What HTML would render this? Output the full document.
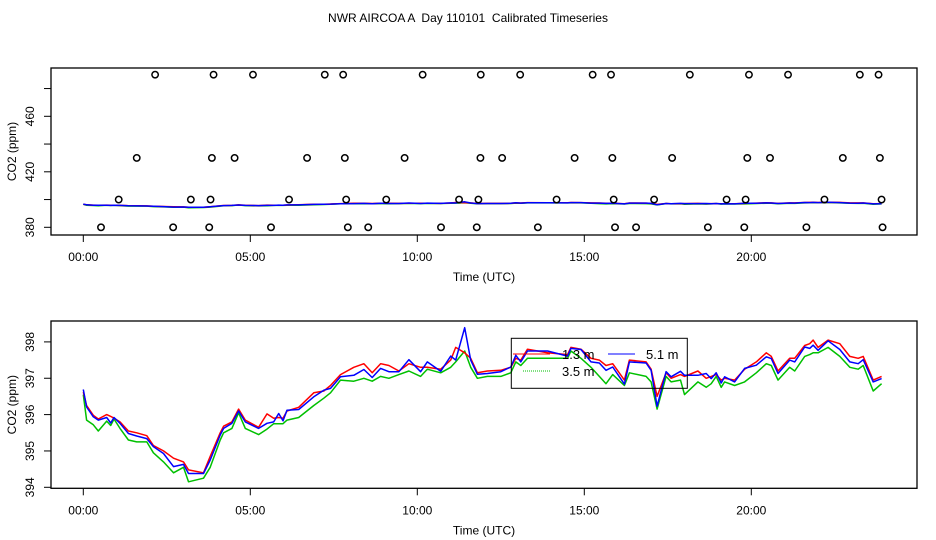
<!DOCTYPE html>
<html><head><meta charset="utf-8">
<style>
html,body{margin:0;padding:0;background:#fff;}
svg{display:block;font-family:"Liberation Sans",sans-serif;}
text{white-space:pre;}
</style></head>
<body>
<svg id="chart" width="936" height="540" viewBox="0 0 936 540">
<text x="468" y="22" text-anchor="middle" font-size="12" xml:space="preserve">NWR AIRCOA A  Day 110101  Calibrated Timeseries</text>
<g id="topPanel"></g>
<g id="botPanel"></g>
</svg>
<script>
const hours = [0,0.1,0.3,0.45,0.7,0.82,0.92,1.1,1.35,1.6,1.9,2.1,2.4,2.7,3.0,3.15,3.6,3.8,4.1,4.2,4.45,4.65,4.85,5.25,5.5,5.7,5.85,5.98,6.1,6.45,6.9,7.2,7.4,7.7,8.1,8.4,8.65,8.9,9.15,9.45,9.75,10.1,10.3,10.7,11.0,11.15,11.42,11.6,11.8,12.1,12.5,12.8,12.95,13.1,13.3,13.9,14.5,14.6,14.9,15.2,15.45,15.65,15.85,16.2,16.35,16.85,17.0,17.18,17.45,17.6,17.88,18.0,18.4,18.65,18.8,18.95,19.1,19.2,19.5,19.8,20.15,20.45,20.6,20.8,21.15,21.3,21.6,21.75,21.85,22.0,22.3,22.65,22.95,23.2,23.35,23.65,23.9];
const blue = [396.69,396.21,395.94,395.85,395.92,395.77,395.92,395.76,395.48,395.41,395.34,395.12,394.93,394.57,394.63,394.38,394.38,394.75,395.44,395.62,395.76,396.10,395.80,395.62,395.76,395.80,396.03,395.83,396.12,396.14,396.49,396.67,396.72,397.04,397.08,397.24,397.02,397.27,397.18,397.18,397.51,397.18,397.45,397.19,397.61,397.50,398.39,397.50,397.11,397.13,397.18,397.31,397.63,397.45,397.75,397.75,397.61,397.82,397.79,397.45,397.42,397.22,397.31,396.84,397.45,397.42,397.22,396.23,397.18,397.04,397.19,397.08,397.08,397.13,396.99,397.15,396.87,397.04,396.90,397.27,397.36,397.59,397.54,397.13,397.50,397.45,397.86,397.82,397.91,397.77,398.03,397.79,397.45,397.40,397.51,396.90,396.99];
const red = [396.62,396.25,395.98,395.88,396.00,395.95,395.90,395.80,395.55,395.50,395.42,395.15,395.00,394.80,394.70,394.48,394.40,394.85,395.50,395.68,395.80,396.15,395.85,395.65,396.02,395.90,395.92,395.90,396.10,396.20,396.60,396.65,396.80,397.10,397.30,397.40,397.15,397.40,397.35,397.20,397.40,397.30,397.30,397.25,397.50,397.85,397.70,397.55,397.15,397.20,397.22,397.30,397.55,397.50,397.80,397.70,397.65,397.85,397.80,397.55,397.50,397.35,397.40,396.95,397.50,397.45,397.25,396.50,397.15,397.00,397.10,397.05,397.20,397.00,397.05,397.10,396.95,397.00,396.95,397.25,397.45,397.70,397.60,397.20,397.55,397.55,397.90,397.95,398.05,397.85,398.05,397.95,397.60,397.55,397.60,396.95,397.05];
const green = [396.55,395.85,395.72,395.55,395.82,395.70,395.88,395.62,395.30,395.25,395.25,394.95,394.70,394.40,394.55,394.15,394.25,394.55,395.30,395.50,395.62,396.05,395.62,395.45,395.60,395.75,395.75,395.75,395.85,395.92,396.25,396.45,396.60,396.95,396.92,397.00,396.92,397.05,397.00,397.10,397.20,397.05,397.25,397.15,397.30,397.45,397.75,397.30,397.00,397.05,397.05,397.15,397.45,397.35,397.55,397.55,397.55,397.75,397.55,397.30,397.05,396.85,397.10,396.80,397.15,397.05,396.90,396.15,397.05,396.90,396.95,396.55,396.90,396.75,396.85,397.05,396.75,396.90,396.80,396.90,397.15,397.40,397.35,396.95,397.30,397.20,397.60,397.65,397.70,397.70,397.85,397.60,397.30,397.25,397.35,396.65,396.85];
const pt380 = [0.53,2.69,3.77,5.62,7.92,8.53,10.71,11.78,13.61,15.92,16.55,18.7,19.79,21.65,23.93];
const pt400 = [1.06,3.22,3.81,6.16,7.87,9.07,11.25,11.83,14.17,15.88,17.09,19.26,19.83,22.19,23.9];
const pt430 = [1.6,3.85,4.53,6.7,7.83,9.62,11.89,12.54,14.71,15.84,17.63,19.88,20.56,22.74,23.85];
const pt490 = [2.15,3.9,5.08,7.23,7.78,10.16,11.9,13.08,15.25,15.8,18.16,19.93,21.1,23.25,23.81];
const xTickHours = [0,5,10,15,20];
const xTickLabels = ["00:00","05:00","10:00","15:00","20:00"];
const topTicks = [380,400,420,440,460,480];
const topLabels = [380,420,460];
const botTicks = [394,395,396,397,398];

const NS = "http://www.w3.org/2000/svg";
function mk(parent, tag, attrs, text){const e=document.createElementNS(NS,tag);for(const k in attrs)e.setAttribute(k,attrs[k]);if(text!==undefined)e.textContent=text;parent.appendChild(e);return e;}
const xs = h => 83.3 + h*33.4;
const yTop = v => 227.3 - (v-380)*1.3875;
const yBot = v => 487.3 - (v-394)*36.35;

function frame(g, t0, b0, yfun, ticks, labels, prefix){
  const box = mk(g,'rect',{x:51,y:t0,width:866,height:b0-t0,fill:'none',stroke:'#000','stroke-width':1.3});
  
  
  xTickHours.forEach((h,i)=>{
    const t = mk(g,'line',{x1:xs(h),x2:xs(h),y1:b0,y2:b0+7,stroke:'#000','stroke-width':1});
    
    
    const l = mk(g,'text',{x:xs(h),y:b0+26,'text-anchor':'middle','font-size':12},xTickLabels[i]);
    
    
  });
  ticks.forEach(v=>{
    const t = mk(g,'line',{x1:44,x2:51,y1:yfun(v),y2:yfun(v),stroke:'#000','stroke-width':1});
    
    
  });
  labels.forEach(v=>{
    const l = mk(g,'text',{x:0,y:0,'text-anchor':'middle','font-size':12,transform:`translate(34,${yfun(v)}) rotate(-90)`},String(v));
    
    
  });
  const xl = mk(g,'text',{x:484,y:b0+46,'text-anchor':'middle','font-size':12},'Time (UTC)');
  
  
  const yl = mk(g,'text',{x:0,y:0,'text-anchor':'middle','font-size':12,transform:`translate(16,${(t0+b0)/2}) rotate(-90)`},'CO2 (ppm)');
  
  
}
function series(g, vals, col, yfun, name, w){
  const d = vals.map((v,i)=>(i?'L':'M')+xs(hours[i]).toFixed(1)+','+yfun(v).toFixed(1)).join('');
  const p = mk(g,'path',{d:d,fill:'none',stroke:col,'stroke-width':w,'stroke-linejoin':'round'});
  
  
}
const topG = document.getElementById('topPanel');
const botG = document.getElementById('botPanel');
frame(topG,68,235,yTop,topTicks,topLabels,'top');
frame(botG,321,488.3,yBot,botTicks,botTicks,'bottom');

series(topG,green,'#00c000',yTop,'top-series-3-5m',1.5);
series(topG,red,'#ff0000',yTop,'top-series-1-3m',1.5);
series(topG,blue,'#0000ff',yTop,'top-series-5-1m',1.5);
[[pt380,380],[pt400,400],[pt430,430],[pt490,490]].forEach(([arr,v])=>{
  arr.forEach(h=>{
    const c = mk(topG,'circle',{cx:xs(h),cy:yTop(v),r:3.2,fill:'none',stroke:'#000','stroke-width':1.5});
    
    
  });
});

series(botG,green,'#00c000',yBot,'series-3-5m',1.5);
series(botG,red,'#ff0000',yBot,'series-1-3m',1.5);
series(botG,blue,'#0000ff',yBot,'series-5-1m',1.5);

const lg = mk(botG,'g',{});


mk(lg,'rect',{x:511.3,y:338.3,width:176,height:50,fill:'none',stroke:'#000','stroke-width':1});
const e1 = mk(lg,'line',{x1:513,x2:550,y1:354,y2:354,stroke:'#ff0000','stroke-width':1});


const t1 = mk(lg,'text',{x:562,y:359,'font-size':13},'1.3 m');


const e2 = mk(lg,'line',{x1:608,x2:635,y1:354,y2:354,stroke:'#0000ff','stroke-width':1});


const t2 = mk(lg,'text',{x:646,y:359,'font-size':13},'5.1 m');


const e3 = mk(lg,'line',{x1:523,x2:550,y1:371,y2:371,stroke:'#00c000','stroke-width':1,'stroke-dasharray':'1,1'});


const t3 = mk(lg,'text',{x:562,y:376,'font-size':13},'3.5 m');


</script>
</body></html>
